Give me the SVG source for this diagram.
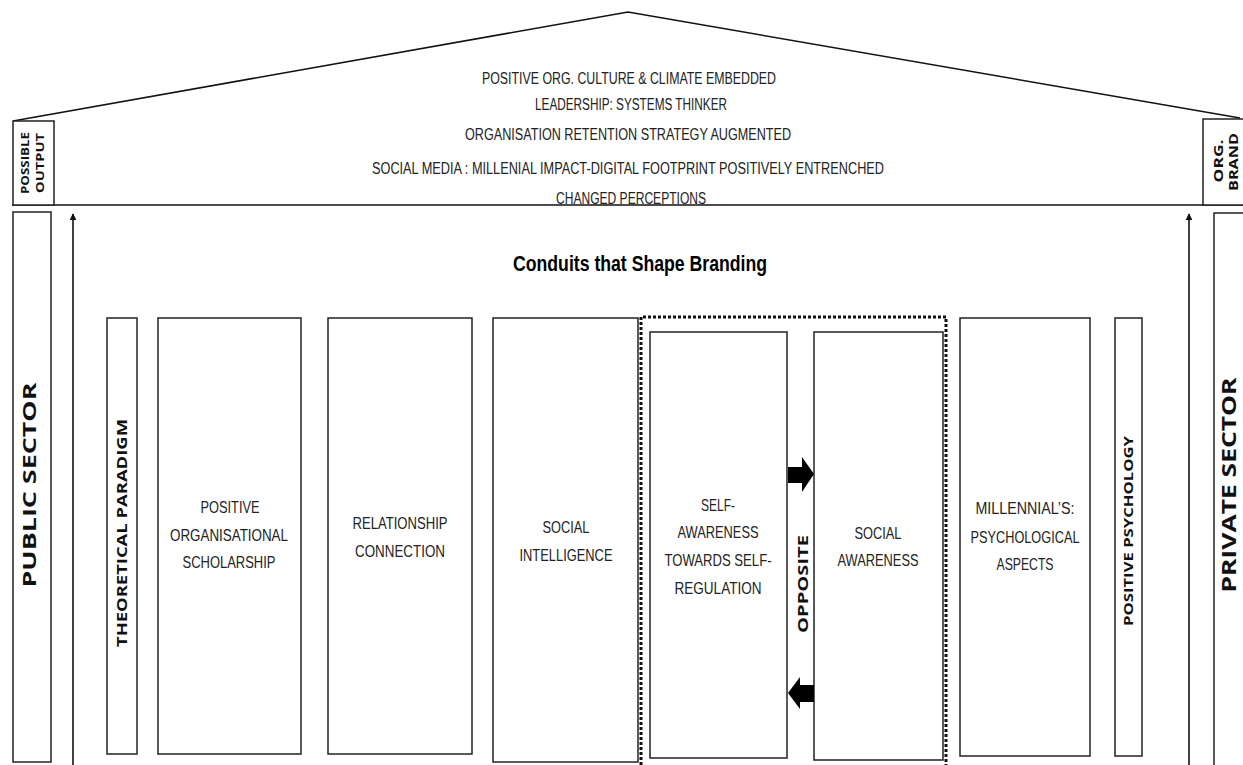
<svg xmlns="http://www.w3.org/2000/svg" width="1243" height="765" viewBox="0 0 1243 765">
  <defs>
    <style>
      .box { fill: #fff; stroke: #222; stroke-width: 1.5; }
      .line { fill: none; stroke: #111; stroke-width: 1.6; }
      .roof { font-family: "Liberation Sans", Arial, sans-serif; font-size: 16px; fill: #222; text-anchor: middle; }
      .lbl { font-family: "Liberation Sans", Arial, sans-serif; font-size: 16.5px; fill: #222; text-anchor: middle; }
      .vert { font-family: "Open Sans", "DejaVu Sans", sans-serif; font-weight: bold; fill: #111; text-anchor: middle; dominant-baseline: central; }
      .title { font-family: "Liberation Sans", Arial, sans-serif; font-weight: bold; font-size: 22px; fill: #000; text-anchor: middle; }
    </style>
    <marker id="tip" viewBox="0 0 10 10" refX="9" refY="5" markerWidth="7" markerHeight="9" orient="auto" markerUnits="userSpaceOnUse">
      <path d="M0,0 L10,5 L0,10 z" fill="#111"/>
    </marker>
  </defs>

  <rect width="1243" height="765" fill="#fff"/>

  <!-- roof outline and floor line -->
  <g id="roof">
    <polyline class="line" points="13,121 628,12 1240,118"/>
    <line class="line" x1="12" y1="205" x2="1243" y2="205" stroke-width="2"/>
    <text class="roof" x="629" y="84" textLength="294" lengthAdjust="spacingAndGlyphs">POSITIVE ORG. CULTURE &amp; CLIMATE  EMBEDDED</text>
    <text class="roof" x="631" y="110" textLength="192" lengthAdjust="spacingAndGlyphs">LEADERSHIP: SYSTEMS THINKER</text>
    <text class="roof" x="628" y="140" textLength="326" lengthAdjust="spacingAndGlyphs">ORGANISATION RETENTION STRATEGY AUGMENTED</text>
    <text class="roof" x="628" y="174" textLength="512" lengthAdjust="spacingAndGlyphs">SOCIAL MEDIA : MILLENIAL IMPACT-DIGITAL FOOTPRINT POSITIVELY ENTRENCHED</text>
    <text class="roof" x="631" y="204" textLength="150" lengthAdjust="spacingAndGlyphs">CHANGED PERCEPTIONS</text>
  </g>

  <g id="possible-output">
    <rect class="box" x="13" y="121" width="41" height="84"/>
    <text class="vert" font-size="10" textLength="62" lengthAdjust="spacingAndGlyphs" transform="translate(25,163) rotate(-90)">POSSIBLE</text>
    <text class="vert" font-size="10" textLength="60" lengthAdjust="spacingAndGlyphs" transform="translate(40,163) rotate(-90)">OUTPUT</text>
  </g>

  <g id="org-brand">
    <rect class="box" x="1203" y="119" width="44" height="86"/>
    <text class="vert" font-size="12.5" textLength="43" lengthAdjust="spacingAndGlyphs" transform="translate(1218,161) rotate(-90)">ORG.</text>
    <text class="vert" font-size="12.5" textLength="58" lengthAdjust="spacingAndGlyphs" transform="translate(1233,162) rotate(-90)">BRAND</text>
  </g>

  <text class="title" x="640" y="271" textLength="254" lengthAdjust="spacingAndGlyphs">Conduits that Shape Branding</text>

  <g id="public-sector">
    <rect class="box" x="13" y="212" width="38" height="550"/>
    <text class="vert" font-size="18.5" textLength="205" lengthAdjust="spacingAndGlyphs" transform="translate(28,485) rotate(-90)">PUBLIC  SECTOR</text>
  </g>

  <g id="theoretical-paradigm">
    <rect class="box" x="107" y="318" width="30" height="436"/>
    <text class="vert" font-size="14" textLength="228" lengthAdjust="spacingAndGlyphs" transform="translate(121,533) rotate(-90)">THEORETICAL PARADIGM</text>
  </g>

  <g id="positive-org-scholarship">
    <rect class="box" x="158" y="318" width="143" height="436"/>
    <text class="lbl" x="230" y="513" textLength="59" lengthAdjust="spacingAndGlyphs">POSITIVE</text>
    <text class="lbl" x="229" y="541" textLength="118" lengthAdjust="spacingAndGlyphs">ORGANISATIONAL</text>
    <text class="lbl" x="229" y="568" textLength="93" lengthAdjust="spacingAndGlyphs">SCHOLARSHIP</text>
  </g>

  <g id="relationship-connection">
    <rect class="box" x="328" y="318" width="144" height="436"/>
    <text class="lbl" x="400" y="529" textLength="95" lengthAdjust="spacingAndGlyphs">RELATIONSHIP</text>
    <text class="lbl" x="400" y="557" textLength="90" lengthAdjust="spacingAndGlyphs">CONNECTION</text>
  </g>

  <g id="social-intelligence">
    <rect class="box" x="493" y="318" width="145" height="444"/>
    <text class="lbl" x="566" y="533" textLength="47" lengthAdjust="spacingAndGlyphs">SOCIAL</text>
    <text class="lbl" x="566" y="561" textLength="93" lengthAdjust="spacingAndGlyphs">INTELLIGENCE</text>
  </g>

  <!-- dotted frame around the paired awareness pillars -->
  <g id="awareness-pair">
    <polyline fill="none" stroke="#111" stroke-width="3" stroke-dasharray="3 2" points="641,765 641,317 946,317 946,765"/>
  </g>

  <g id="self-awareness">
    <rect class="box" x="650" y="332" width="137" height="426"/>
    <text class="lbl" x="718" y="511" textLength="34" lengthAdjust="spacingAndGlyphs">SELF-</text>
    <text class="lbl" x="718" y="538" textLength="81" lengthAdjust="spacingAndGlyphs">AWARENESS</text>
    <text class="lbl" x="718" y="566" textLength="107" lengthAdjust="spacingAndGlyphs">TOWARDS SELF-</text>
    <text class="lbl" x="718" y="594" textLength="87" lengthAdjust="spacingAndGlyphs">REGULATION</text>
  </g>

  <g id="social-awareness">
    <rect class="box" x="814" y="332" width="129" height="428"/>
    <text class="lbl" x="878" y="539" textLength="47" lengthAdjust="spacingAndGlyphs">SOCIAL</text>
    <text class="lbl" x="878" y="566" textLength="81" lengthAdjust="spacingAndGlyphs">AWARENESS</text>
  </g>

  <g id="millennials">
    <rect class="box" x="960" y="318" width="130" height="438"/>
    <text class="lbl" x="1025" y="514" textLength="99" lengthAdjust="spacingAndGlyphs">MILLENNIAL’S:</text>
    <text class="lbl" x="1025" y="543" textLength="109" lengthAdjust="spacingAndGlyphs">PSYCHOLOGICAL</text>
    <text class="lbl" x="1025" y="570" textLength="57" lengthAdjust="spacingAndGlyphs">ASPECTS</text>
  </g>

  <g id="positive-psychology">
    <rect class="box" x="1115" y="318" width="27" height="438"/>
    <text class="vert" font-size="13" textLength="190" lengthAdjust="spacingAndGlyphs" transform="translate(1128,531) rotate(-90)">POSITIVE PSYCHOLOGY</text>
  </g>

  <g id="private-sector">
    <rect class="box" x="1214" y="213" width="40" height="556"/>
    <text class="vert" font-size="19" textLength="215" lengthAdjust="spacingAndGlyphs" transform="translate(1229,485) rotate(-90)">PRIVATE  SECTOR</text>
  </g>

  <text class="vert" font-size="14" textLength="98" lengthAdjust="spacingAndGlyphs" transform="translate(802,584) rotate(-90)">OPPOSITE</text>

  <g id="connectors">
    <line class="line" x1="73" y1="765" x2="73" y2="214" marker-end="url(#tip)"/>
    <line class="line" x1="1189" y1="765" x2="1189" y2="214" marker-end="url(#tip)"/>
    <!-- block arrows between the awareness pillars -->
    <path d="M788,467 L802,467 L802,457 L814,474 L802,492 L802,483 L788,483 z" fill="#000"/>
    <path d="M814,685 L800,685 L800,677 L788,693 L800,709 L800,702 L814,702 z" fill="#000"/>
  </g>
</svg>
